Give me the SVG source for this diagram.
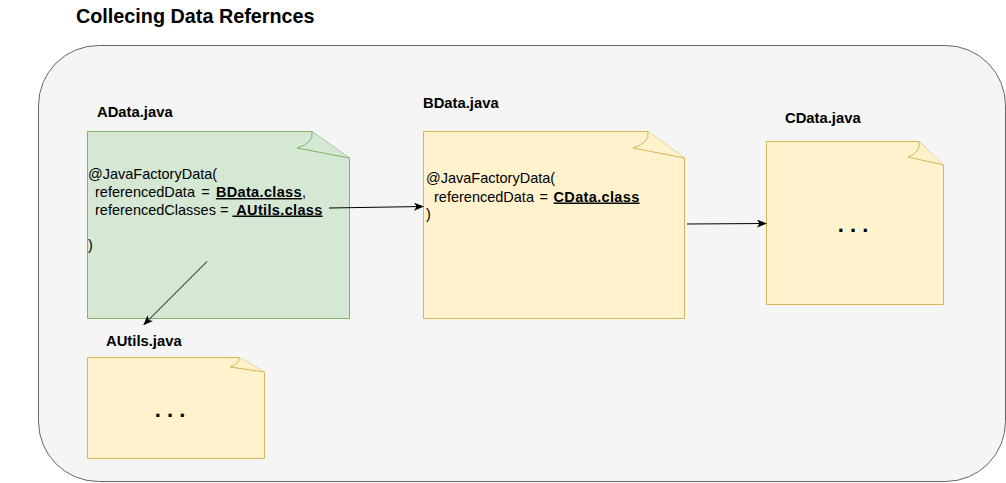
<svg xmlns="http://www.w3.org/2000/svg" width="1006" height="483" viewBox="0 0 1006 483">
<style>
text{font-family:"Liberation Sans",Arial,sans-serif;fill:#000}
.title{font-size:19.8px;font-weight:bold}
.lbl{font-size:14.8px;font-weight:bold}
.code{font-size:14.5px}
.b{font-weight:bold;text-decoration:underline;letter-spacing:0.35px}
.dots{font-size:22px;font-weight:bold}
.green{fill:#d5e8d4;stroke:#82b366;stroke-width:1}
.yellow{fill:#fff2cc;stroke:#d6b656;stroke-width:1}
.conn{stroke:#000;stroke-width:1;fill:none;marker-end:url(#arr)}
</style>
<defs>
<marker id="arr" viewBox="0 0 10 8" refX="9" refY="4" markerWidth="10" markerHeight="8" markerUnits="userSpaceOnUse" orient="auto">
<path d="M0,0 L10,4 L0,8 L2.5,4 Z" fill="#000"/>
</marker>
</defs>
<rect id="container" x="38.5" y="45.5" width="967" height="436" rx="60" ry="60" fill="#f5f5f5" stroke="#666666" stroke-width="1"/>
<text class="title" x="76" y="23">Collecing Data Refernces</text>

<g id="adata">
<text class="lbl" x="97" y="117">AData.java</text>
<path class="green" d="M87.5,131.5 H312 L349.5,158 V318.5 H87.5 Z"/>
<path class="green" d="M312,131.5 Q314,143 297,148 L349.5,158"/>
<text class="code" x="88" y="179">@JavaFactoryData(</text>
<text class="code" x="95" y="197" word-spacing="2.2">referencedData = <tspan class="b" word-spacing="0">BData.class</tspan>,</text>
<text class="code" x="95" y="214.5">referencedClasses = <tspan class="b" xml:space="preserve"> AUtils.class</tspan></text>
<text class="code" x="88" y="250">)</text>
</g>

<g id="bdata">
<text class="lbl" x="423" y="108">BData.java</text>
<path class="yellow" d="M423.5,131.5 H648 L684.5,158 V318.5 H423.5 Z"/>
<path class="yellow" d="M648,131.5 Q650,143 633,148 L684.5,158"/>
<text class="code" x="426" y="183">@JavaFactoryData(</text>
<text class="code" x="434" y="201.5" word-spacing="1.5">referencedData = <tspan class="b" word-spacing="0">CData.class</tspan></text>
<text class="code" x="426" y="219">)</text>
</g>

<g id="cdata">
<text class="lbl" x="785" y="123">CData.java</text>
<path class="yellow" d="M766.5,141.5 H919 L943.5,165 V304.5 H766.5 Z"/>
<path class="yellow" d="M919,141.5 Q921,152 908,157 L943.5,165"/>
<text class="dots" x="853" y="232" text-anchor="middle">. . .</text>
</g>

<g id="autils">
<text class="lbl" x="106" y="346">AUtils.java</text>
<path class="yellow" d="M87.5,357.5 H239 L264.5,372 V458.5 H87.5 Z"/>
<path class="yellow" d="M239,357.5 Q240,364 230,367 L264.5,372"/>
<text class="dots" x="170" y="417" text-anchor="middle">. . .</text>
</g>

<g id="connectors">
<line class="conn" x1="329" y1="208" x2="423" y2="206.5"/>
<line class="conn" x1="687" y1="224" x2="766" y2="223.5"/>
<line class="conn" x1="207" y1="261.5" x2="144" y2="324.5"/>
</g>
</svg>
